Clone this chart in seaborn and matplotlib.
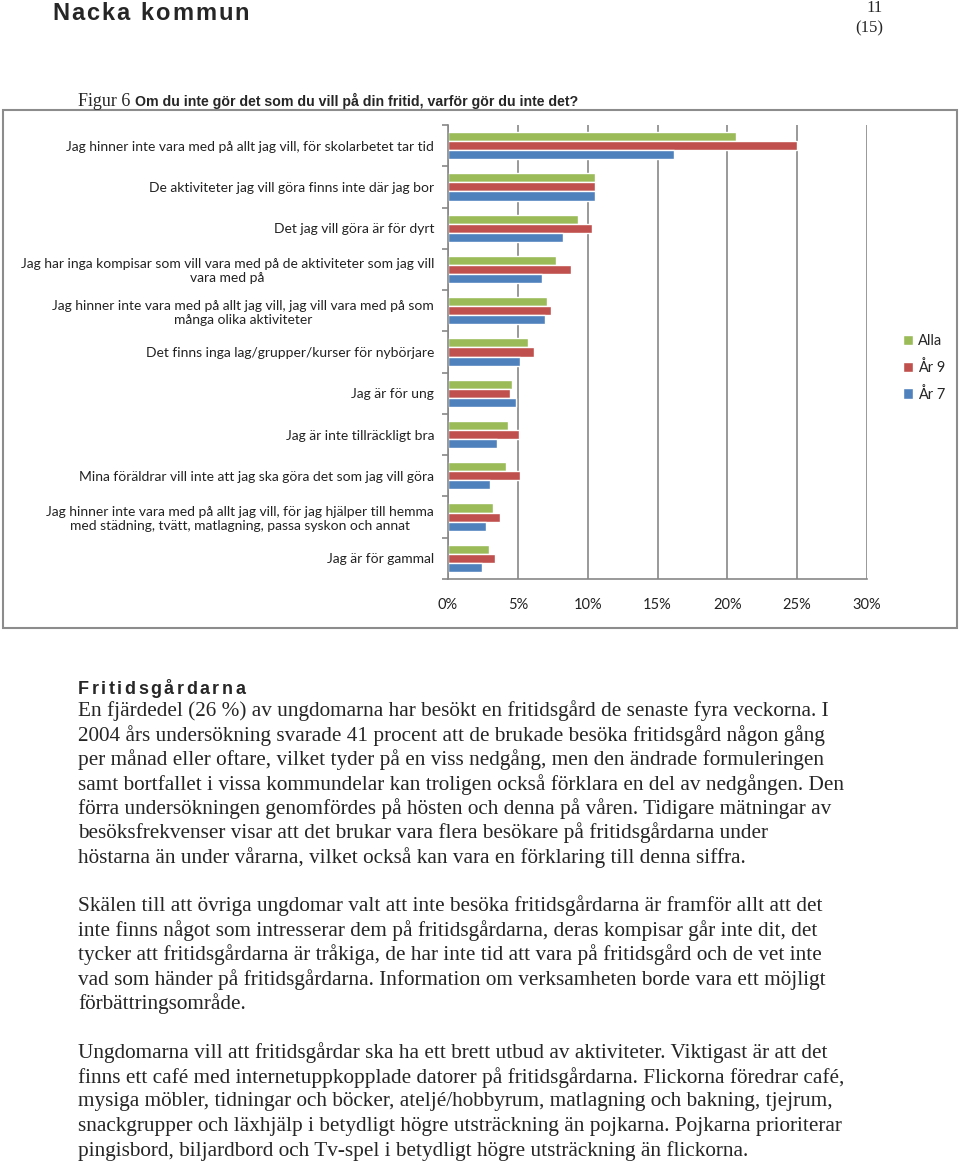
import pandas as pd
import numpy as np
import seaborn as sns
import matplotlib.pyplot as plt
from matplotlib.patches import Rectangle
from matplotlib.ticker import FixedLocator, PercentFormatter

# data
orsaker = [
    "Jag hinner inte vara med på allt jag vill, för skolarbetet tar tid",
    "De aktiviteter jag vill göra finns inte där jag bor",
    "Det jag vill göra är för dyrt",
    "Jag har inga kompisar som vill vara med på de aktiviteter som jag vill\nvara med på",
    "Jag hinner inte vara med på allt jag vill, jag vill vara med på som\nmånga olika aktiviteter",
    "Det finns inga lag/grupper/kurser för nybörjare",
    "Jag är för ung",
    "Jag är inte tillräckligt bra",
    "Mina föräldrar vill inte att jag ska göra det som jag vill göra",
    "Jag hinner inte vara med på allt jag vill, för jag hjälper till hemma\nmed städning, tvätt, matlagning, passa syskon och annat",
    "Jag är för gammal",
]
grupper = ["Alla", "År 9", "År 7"]
alla = [20.6, 10.55, 9.3, 7.75, 7.1, 5.7, 4.6, 4.3, 4.15, 3.25, 2.9]
ar9 = [25.0, 10.55, 10.3, 8.8, 7.35, 6.15, 4.45, 5.1, 5.15, 3.75, 3.4]
ar7 = [16.2, 10.55, 8.25, 6.7, 6.95, 5.15, 4.85, 3.5, 3.0, 2.7, 2.45]
x_ticks = [0, 5, 10, 15, 20, 25, 30]
farger = ["#9BBB59", "#C0504D", "#4F81BD"]

stycke1 = [
    "En fjärdedel (26 %) av ungdomarna har besökt en fritidsgård de senaste fyra veckorna. I",
    "2004 års undersökning svarade 41 procent att de brukade besöka fritidsgård någon gång",
    "per månad eller oftare, vilket tyder på en viss nedgång, men den ändrade formuleringen",
    "samt bortfallet i vissa kommundelar kan troligen också förklara en del av nedgången. Den",
    "förra undersökningen genomfördes på hösten och denna på våren. Tidigare mätningar av",
    "besöksfrekvenser visar att det brukar vara flera besökare på fritidsgårdarna under",
    "höstarna än under vårarna, vilket också kan vara en förklaring till denna siffra.",
]
stycke2 = [
    "Skälen till att övriga ungdomar valt att inte besöka fritidsgårdarna är framför allt att det",
    "inte finns något som intresserar dem på fritidsgårdarna, deras kompisar går inte dit, det",
    "tycker att fritidsgårdarna är tråkiga, de har inte tid att vara på fritidsgård och de vet inte",
    "vad som händer på fritidsgårdarna. Information om verksamheten borde vara ett möjligt",
    "förbättringsområde.",
]
stycke3 = [
    "Ungdomarna vill att fritidsgårdar ska ha ett brett utbud av aktiviteter. Viktigast är att det",
    "finns ett café med internetuppkopplade datorer på fritidsgårdarna. Flickorna föredrar café,",
    "mysiga möbler, tidningar och böcker, ateljé/hobbyrum, matlagning och bakning, tjejrum,",
    "snackgrupper och läxhjälp i betydligt högre utsträckning än pojkarna. Pojkarna prioriterar",
    "pingisbord, biljardbord och Tv-spel i betydligt högre utsträckning än flickorna.",
]

sns.set_style("white")
plt.rcParams["font.family"] = ["Lato", "DejaVu Sans"]

W, H = 960, 1164
fig = plt.figure(figsize=(W / 100, H / 100), dpi=100)
renderer = fig.canvas.get_renderer()


def fy(py):
    return 1 - py / H


def spaced(x_px, y_px, s, extra, **kw):
    # text with extra letter spacing, one glyph at a time
    probe = fig.text(0, 0, "n n", **kw)
    probe2 = fig.text(0, 0, "nn", **kw)
    space_w = probe.get_window_extent(renderer).width - probe2.get_window_extent(renderer).width
    probe.remove()
    probe2.remove()
    x = x_px
    for ch in s:
        if ch == " ":
            x += space_w + extra
            continue
        t = fig.text(x / W, fy(y_px), ch, ha="left", va="baseline", **kw)
        x += t.get_window_extent(renderer).width + extra


# page header
sans = ["Liberation Sans", "DejaVu Sans"]
serif = ["Liberation Serif", "DejaVu Serif"]
spaced(52, 20, "Nacka kommun", 2.0, fontsize=17, fontweight="bold", family=sans)
fig.text(875 / W, fy(12), "11", fontsize=12, family=serif, va="baseline", ha="center")
fig.text(869 / W, fy(32), "(15)", fontsize=12, family=serif, va="baseline", ha="center")
fig.text(78 / W, fy(106), "Figur 6", fontsize=13, family=serif, va="baseline", ha="left")
fig.text(135 / W, fy(106), "Om du inte gör det som du vill på din fritid, varför gör du inte det?",
         fontsize=10.2, fontweight="bold", family=sans, va="baseline", ha="left")

# chart frame
fig.patches.append(Rectangle((3 / W, fy(628)), 954 / W, 518 / H, transform=fig.transFigure,
                             fill=False, edgecolor="#8c8c8c", linewidth=1.5))

df = pd.DataFrame({
    "orsak": orsaker * 3,
    "grupp": np.repeat(grupper, len(orsaker)),
    "andel": alla + ar9 + ar7,
})

ax = fig.add_axes([448 / W, fy(579), (867 - 448) / W, (579 - 125) / H])
sns.barplot(data=df, x="andel", y="orsak", hue="grupp", hue_order=grupper,
            palette=farger, saturation=1, width=0.66, gap=0, orient="h", ax=ax)

ax.set_xlim(0, 30)
ax.set_ylim(len(orsaker) - 0.5, -0.5)
ax.set_xlabel("")
ax.set_ylabel("")
ax.xaxis.set_major_locator(FixedLocator(x_ticks))
ax.xaxis.set_major_formatter(PercentFormatter(decimals=0))
ax.grid(axis="x", color="#878787", linewidth=1.2)
ax.set_axisbelow(True)
for s in ["top", "right"]:
    ax.spines[s].set_visible(False)
for s in ["left", "bottom"]:
    ax.spines[s].set_color("#878787")
    ax.spines[s].set_linewidth(1.2)

ax.tick_params(axis="x", length=4, width=1.2, color="#878787", pad=10, labelsize=10.5, labelcolor="#222222")
ax.yaxis.set_minor_locator(FixedLocator(np.arange(-0.5, len(orsaker), 1)))
ax.tick_params(axis="y", which="major", length=0, pad=10, labelsize=10, labelcolor="#222222")
ax.tick_params(axis="y", which="minor", length=4, width=1.2, color="#878787", left=True)
for lab in ax.get_yticklabels():
    lab.set_multialignment("center")

ax.legend(loc="center left", bbox_to_anchor=(890 / W, fy(368)), bbox_transform=fig.transFigure,
          frameon=False, fontsize=10.5, handlelength=0.7, handleheight=0.7,
          handletextpad=0.35, labelspacing=0.8)

# text below the chart
spaced(78, 694, "Fritidsgårdarna", 2.5, fontsize=13, fontweight="bold", family=sans)
for start, rader in [(711, stycke1), (906, stycke2), (1053, stycke3)]:
    for i, rad in enumerate(rader):
        fig.text(78 / W, fy(start + i * 24.4), rad, fontsize=15.3, family=serif,
                 va="center", ha="left")

fig.savefig("out.png", dpi=100)
